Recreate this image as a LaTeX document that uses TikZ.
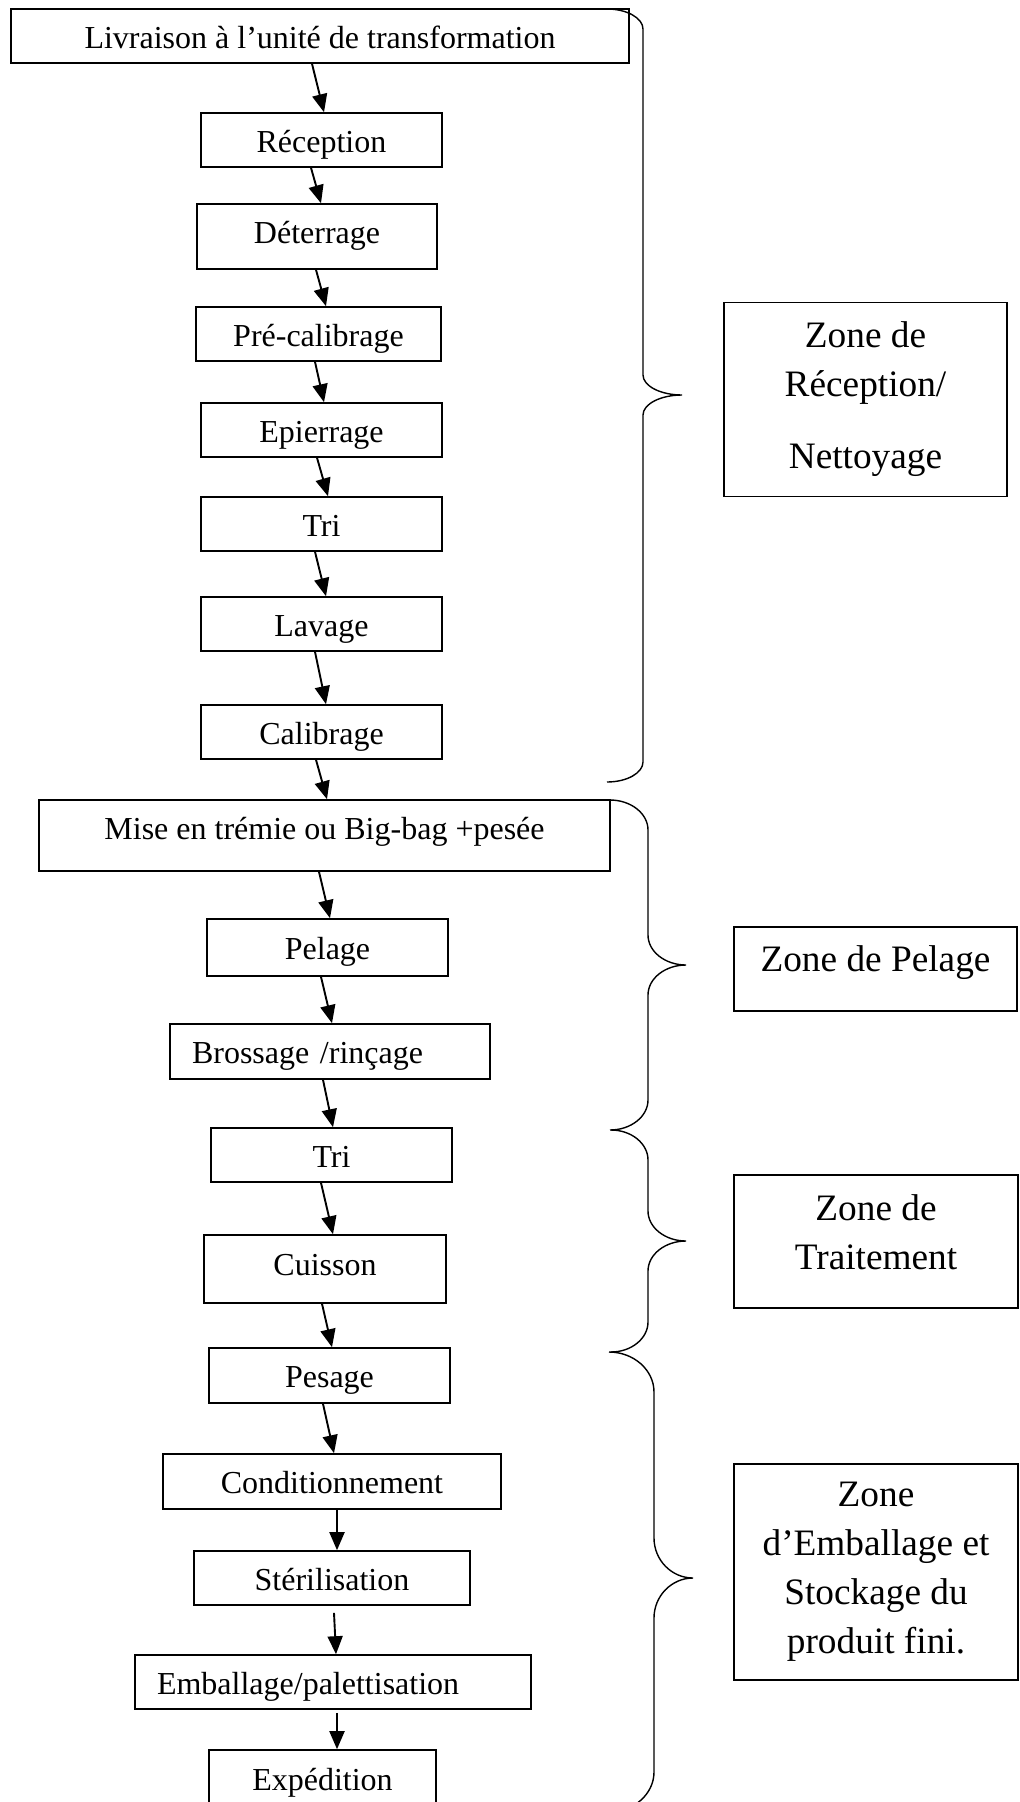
\documentclass[tikz,border=0pt]{standalone}
\usepackage{fontspec}
\setmainfont{Liberation Serif}
\usepackage{tikz}
\usetikzlibrary{arrows.meta}
\usetikzlibrary{positioning}
\tikzset{
    block/.style={
           rectangle,
           draw=black, line width=1.6pt,
           inner sep=0pt,
           text centered,
           font=\fontsize{32}{38}\selectfont,
           text height=24pt,
           text depth=0pt,
           },
    lefttext/.style={
           inner xsep=22pt,
           align=left,
           },
    zone/.style={
           rectangle,
           draw=black, line width=1.6pt,
           inner sep=0pt,
           align=center,
           font=\fontsize{37.3}{49}\selectfont,
           },
    flow/.style={
           -{Triangle[length=18pt,width=15pt]},
           line width=1.9pt,
           },
    bracepath/.style={
           line width=1.4pt,
           },
}
% end x, top y, stem x, tip y, tip x, bottom y, radius
\newcommand{\zonebrace}[7]{%
	\draw[bracepath] (#1,#2)
		.. controls ({#1+0.55*(#3-#1)},#2) and (#3,{#2+0.45*#7}) .. (#3,{#2+#7})
		-- (#3,{#4-#7})
		.. controls (#3,{#4-0.45*#7}) and ({#5-0.55*(#5-#3)},#4) .. (#5,#4)
		.. controls ({#5-0.55*(#5-#3)},#4) and (#3,{#4+0.45*#7}) .. (#3,{#4+#7})
		-- (#3,{#6-#7})
		.. controls (#3,{#6-0.45*#7}) and ({#1+0.55*(#3-#1)},#6) .. (#1,#6);
}

\begin{document}
\begin{tikzpicture}[x=1pt, y=-1pt]
	\useasboundingbox (0,0) rectangle (1020,1802);
	\clip (0,0) rectangle (1020,1802);

	% reception / nettoyage
	\node[block, minimum width=618pt, minimum height=54pt] (liv) at (320,36) {Livraison à l’unité de transformation};
	\node[block, minimum width=241pt, minimum height=54pt] (rec) at (321.5,140) {Réception};
	\node[block, minimum width=240pt, minimum height=65pt, text depth=10pt] (det) at (317,236.5) {Déterrage};
	\node[block, minimum width=245pt, minimum height=54pt] (prec) at (318.5,334) {Pré-calibrage};
	\node[block, minimum width=241pt, minimum height=54pt] (epi) at (321.5,430) {Epierrage};
	\node[block, minimum width=241pt, minimum height=54pt] (tri) at (321.5,524) {Tri};
	\node[block, minimum width=241pt, minimum height=54pt] (lav) at (321.5,624) {Lavage};
	\node[block, minimum width=241pt, minimum height=54pt] (cal) at (321.5,732) {Calibrage};

	% pelage
	\node[block, minimum width=571pt, minimum height=71pt, text depth=16pt] (mise) at (324.5,835.5) {Mise en trémie ou Big-bag +pesée};
	\node[block, minimum width=241pt, minimum height=57pt] (pel) at (327.5,947.5) {Pelage};
	\node[block, lefttext, text width=276pt, minimum height=55pt] (bro) at (330,1051.5) {Brossage /rinçage};

	% traitement
	\node[block, minimum width=241pt, minimum height=54pt] (trib) at (331.5,1155) {Tri};
	\node[block, minimum width=242pt, minimum height=68pt, text depth=12pt] (cui) at (325,1269) {Cuisson};

	% emballage / stockage
	\node[block, minimum width=241pt, minimum height=55pt] (pes) at (329.5,1375.5) {Pesage};
	\node[block, minimum width=338pt, minimum height=55pt] (cond) at (332,1481.5) {Conditionnement};
	\node[block, minimum width=276pt, minimum height=54pt] (ster) at (332,1578) {Stérilisation};
	\node[block, lefttext, text width=352pt, minimum height=54pt] (emb) at (333,1682) {Emballage/palettisation};
	\node[block, minimum width=227pt, minimum height=56pt] (exp) at (322.5,1778) {Expédition};

	% zones
	\node[zone, minimum width=283pt, minimum height=194pt] (zrec) at (865.5,399.5) {Zone de\\Réception/\\[23pt]Nettoyage};
	\node[zone, minimum width=283pt, minimum height=84pt, text depth=21.5pt] (zpel) at (875.5,969) {Zone de Pelage};
	\node[zone, minimum width=284pt, minimum height=133pt, text depth=19.5pt] (ztrt) at (876,1241.5) {Zone de\\Traitement};
	\node[zone, minimum width=284pt, minimum height=216pt] (zemb) at (876,1572) {Zone\\d’Emballage et\\Stockage du\\produit fini.};

	\path[flow]	([xshift=-8pt]liv.south) edge ([xshift=2.5pt]rec.north)
				([xshift=-10.5pt]rec.south) edge ([xshift=4pt]det.north)
				([xshift=-1pt]det.south) edge ([xshift=7.5pt]prec.north)
				([xshift=-3.5pt]prec.south) edge ([xshift=2.5pt]epi.north)
				([xshift=-4.5pt]epi.south) edge ([xshift=6.5pt]tri.north)
				([xshift=-6.5pt]tri.south) edge ([xshift=4.5pt]lav.north)
				([xshift=-6.5pt]lav.south) edge ([xshift=4.5pt]cal.north)
				([xshift=-5.5pt]cal.south) edge ([xshift=2.5pt]mise.north);

	\path[flow]	([xshift=-5.5pt]mise.south) edge ([xshift=2.5pt]pel.north)
				([xshift=-6.5pt]pel.south) edge ([xshift=2pt]bro.north)
				([xshift=-7pt]bro.south) edge ([xshift=1.5pt]trib.north)
				([xshift=-10.5pt]trib.south) edge ([xshift=8pt]cui.north)
				([xshift=-3pt]cui.south) edge ([xshift=2.5pt]pes.north);

	\path[flow]	([xshift=-6.5pt]pes.south) edge ([xshift=2pt]cond.north)
				([xshift=5pt]cond.south) edge ([xshift=5pt]ster.north)
				([xshift=2pt,yshift=-7pt]ster.south) edge ([xshift=3pt]emb.north)
				([xshift=4pt,yshift=-3pt]emb.south) edge ([xshift=14.5pt]exp.north);

	% braces
	\zonebrace{607}{9}{643}{395}{682}{782}{20}
	\zonebrace{610}{800}{648}{965}{686}{1130}{30}
	\zonebrace{611}{1130}{648}{1241}{686}{1352}{30}
	\zonebrace{609}{1352}{654}{1578}{693}{1812}{40}

\end{tikzpicture}
\end{document}
